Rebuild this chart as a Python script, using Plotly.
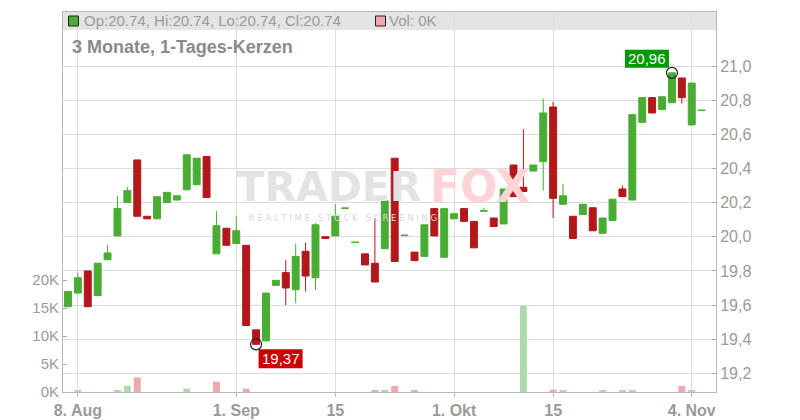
import plotly.graph_objects as go

# ---------------- data ----------------
DATES = [
    "2024-08-07", "2024-08-08", "2024-08-09", "2024-08-12", "2024-08-13", "2024-08-14", "2024-08-15",
    "2024-08-16", "2024-08-19", "2024-08-20", "2024-08-21", "2024-08-22", "2024-08-23", "2024-08-26",
    "2024-08-27", "2024-08-28", "2024-08-29", "2024-08-30", "2024-09-02", "2024-09-03", "2024-09-04",
    "2024-09-05", "2024-09-06", "2024-09-09", "2024-09-10", "2024-09-11", "2024-09-12", "2024-09-13",
    "2024-09-16", "2024-09-17", "2024-09-18", "2024-09-19", "2024-09-20", "2024-09-23", "2024-09-24",
    "2024-09-25", "2024-09-26", "2024-09-27", "2024-09-30", "2024-10-01", "2024-10-02", "2024-10-03",
    "2024-10-04", "2024-10-07", "2024-10-08", "2024-10-09", "2024-10-10", "2024-10-11", "2024-10-14",
    "2024-10-15", "2024-10-16", "2024-10-17", "2024-10-18", "2024-10-21", "2024-10-22", "2024-10-23",
    "2024-10-24", "2024-10-25", "2024-10-28", "2024-10-29", "2024-10-30", "2024-10-31", "2024-11-01",
    "2024-11-04", "2024-11-05",
]

OPEN = [19.59, 19.67, 19.80, 19.655, 19.865, 20.005, 20.20, 20.45, 20.12, 20.105,
        20.20, 20.215, 20.275, 20.305, 20.47, 19.90, 20.05, 19.96, 19.95, 19.455,
        19.39, 19.715, 19.79, 19.69, 19.915, 19.76, 20.00, 20.005, 20.166, 19.966,
        19.90, 19.845, 19.93, 20.46, 20.007, 19.91, 19.885, 20.165, 19.88, 20.105,
        20.165, 20.09, 20.150, 20.11, 20.075, 20.42, 20.29, 20.385, 20.44, 20.76,
        20.19, 20.12, 20.13, 20.17, 20.02, 20.095, 20.28, 20.215, 20.67, 20.815,
        20.745, 20.785, 20.93, 20.655, 20.739]

HIGH = [19.68, 19.79, 19.80, 19.845, 19.95, 20.24, 20.29, 20.45, 20.12, 20.235,
        20.26, 20.24, 20.48, 20.46, 20.47, 20.15, 20.05, 20.12, 19.95, 19.455,
        19.67, 19.745, 19.865, 19.96, 19.965, 20.08, 20.00, 20.19, 20.168, 19.968,
        19.90, 20.11, 20.21, 20.46, 20.009, 19.91, 20.07, 20.165, 20.165, 20.135,
        20.165, 20.09, 20.168, 20.11, 20.28, 20.42, 20.63, 20.42, 20.81, 20.79,
        20.31, 20.12, 20.19, 20.17, 20.11, 20.22, 20.30, 20.72, 20.815, 20.815,
        20.82, 20.96, 20.93, 20.90, 20.741]

LOW = [19.59, 19.67, 19.59, 19.655, 19.865, 20.005, 20.20, 20.12, 20.105, 20.105,
       20.20, 20.215, 20.275, 20.305, 20.23, 19.90, 19.95, 19.96, 19.48, 19.37,
       19.39, 19.715, 19.60, 19.61, 19.68, 19.69, 19.99, 20.005, 20.166, 19.966,
       19.835, 19.735, 19.93, 19.855, 20.007, 19.86, 19.885, 20.005, 19.88, 20.105,
       20.09, 19.935, 20.150, 20.06, 20.075, 20.235, 20.265, 20.385, 20.27, 20.11,
       20.19, 19.99, 20.13, 20.035, 20.02, 20.095, 20.235, 20.215, 20.67, 20.725,
       20.745, 20.785, 20.78, 20.655, 20.739]

CLOSE = [19.68, 19.76, 19.59, 19.845, 19.905, 20.165, 20.27, 20.12, 20.105, 20.235,
         20.26, 20.24, 20.48, 20.46, 20.23, 20.065, 19.95, 20.035, 19.48, 19.37,
         19.67, 19.745, 19.70, 19.885, 19.77, 20.07, 19.99, 20.12, 20.168, 19.968,
         19.835, 19.735, 20.21, 19.855, 20.009, 19.86, 20.07, 20.005, 20.165, 20.135,
         20.09, 19.935, 20.152, 20.06, 20.28, 20.235, 20.265, 20.42, 20.725, 20.225,
         20.24, 19.99, 20.19, 20.035, 20.11, 20.22, 20.235, 20.715, 20.815, 20.725,
         20.82, 20.96, 20.815, 20.90, 20.741]

VOLUME = [0, 250, 0, 0, 0, 250, 1100, 2600, 0, 0,
          0, 0, 600, 0, 0, 1850, 0, 0, 600, 0,
          0, 0, 0, 0, 0, 0, 0, 0, 0, 0,
          0, 250, 400, 1100, 0, 250, 0, 0, 0, 0,
          0, 0, 0, 0, 0, 0, 15400, 0, 0, 400,
          250, 0, 0, 0, 250, 0, 200, 200, 0, 0,
          0, 0, 1070, 350, 0]

TICK_DATES = ["2024-08-08", "2024-08-30", "2024-09-13", "2024-10-01", "2024-10-15", "2024-11-04"]
TICK_TEXT = ["8. Aug", "1. Sep", "15", "1. Okt", "15", "4. Nov"]

PRICE_TICKS = [19.2, 19.4, 19.6, 19.8, 20.0, 20.2, 20.4, 20.6, 20.8, 21.0]
VOL_TICKS = [0, 5000, 10000, 15000, 20000]
VOL_TICK_TEXT = ["0K", "5K", "10K", "15K", "20K"]

HIGH_LABEL = "20,96"
LOW_LABEL = "19,37"
HEADER_OHLC = "Op:20.74, Hi:20.74, Lo:20.74, Cl:20.74"
HEADER_VOL = "Vol: 0K"
TITLE = "3 Monate, 1-Tages-Kerzen"

# ---------------- styling / geometry ----------------
GREEN = "#49AD34"
RED = "#B2181B"
VOL_GREEN = "#ADDCA9"
VOL_PINK = "#EFA8AF"
GRID = "#DCDCDC"
AXIS = "#B8B8B8"
TXT = "#9A9A9A"
FONT = "Liberation Sans, Arial, sans-serif"

OFF = 8  # page body margin of the browser
# plot area in screen pixels
SL, SR, ST, SB = 63, 716, 12, 392
PL, PR, PT, PB = SL - OFF, SR - OFF, ST - OFF, SB - OFF
XR = [-0.5, 65.45]
YR = [19.0908, 21.3163]
VR = [0, 67857]

def px(x):  # screen x -> paper
    return (x - SL) / (SR - SL)

def py(y):  # screen y -> paper
    return (SB - y) / (SB - ST)

def dx(x):
    return XR[0] + px(x) * (XR[1] - XR[0])

def dy(y):
    return YR[0] + py(y) * (YR[1] - YR[0])

idx = list(range(len(DATES)))
tickvals = [DATES.index(d) for d in TICK_DATES]

vol_colors = []
for i in idx:
    ref = CLOSE[i - 1] if i > 0 else OPEN[i]
    vol_colors.append(VOL_GREEN if CLOSE[i] >= ref else VOL_PINK)

hi_i = HIGH.index(max(HIGH))
lo_i = LOW.index(min(LOW))

fig = go.Figure()

# watermark (beneath candles)
fig.add_trace(go.Scatter(
    x=[dx(329)], y=[dy(191)], mode="text", text=["TRADER"],
    textfont=dict(family="DejaVu Sans", size=41, color="#E3E3E3", weight="bold"),
    hoverinfo="skip"))
fig.add_trace(go.Scatter(
    x=[dx(480)], y=[dy(191)], mode="text", text=["FOX"],
    textfont=dict(family="DejaVu Sans", size=44, color="#FFD3D8", weight="bold"),
    hoverinfo="skip"))
fig.add_trace(go.Scatter(
    x=[dx(343)], y=[dy(219)], mode="text", text=["R E A L T I M E   S T O C K   S C R E E N I N G"],
    textfont=dict(family="DejaVu Sans", size=8.5, color="#D8D8D8"),
    hoverinfo="skip"))

fig.add_trace(go.Candlestick(
    x=idx, open=OPEN, high=HIGH, low=LOW, close=CLOSE,
    increasing=dict(line=dict(color=GREEN, width=1), fillcolor=GREEN),
    decreasing=dict(line=dict(color=RED, width=1), fillcolor=RED),
    whiskerwidth=0, hoverinfo="skip"))

fig.add_trace(go.Bar(
    x=idx, y=VOLUME, yaxis="y2", width=0.7,
    marker=dict(color=vol_colors, line=dict(width=0)), hoverinfo="skip"))

fig.add_trace(go.Scatter(
    x=[hi_i, lo_i], y=[HIGH[hi_i], LOW[lo_i]], mode="markers",
    marker=dict(symbol="circle-open", size=11, color="#222222", line=dict(width=1.2)),
    hoverinfo="skip"))

shapes = [
    dict(type="rect", xref="paper", yref="paper", x0=0, x1=1, y0=py(30), y1=1,
         fillcolor="#E4E4E4", line=dict(width=0), layer="below"),
    dict(type="rect", xref="paper", yref="paper", x0=px(68.5), x1=px(78.5), y0=py(26), y1=py(16),
         fillcolor=GREEN, line=dict(color="#222222", width=1), layer="above"),
    dict(type="rect", xref="paper", yref="paper", x0=px(375.5), x1=px(385.5), y0=py(26), y1=py(16),
         fillcolor=VOL_PINK, line=dict(color="#222222", width=1), layer="above"),
    # value label boxes anchored to the extreme points
    dict(type="rect", xref="x", yref="y", xsizemode="pixel", ysizemode="pixel",
         xanchor=hi_i, yanchor=HIGH[hi_i], x0=-47, x1=-3, y0=5, y1=23,
         fillcolor="#009900", line=dict(width=0), layer="above"),
    dict(type="rect", xref="x", yref="y", xsizemode="pixel", ysizemode="pixel",
         xanchor=lo_i, yanchor=LOW[lo_i], x0=2.5, x1=46.5, y0=-5, y1=-24,
         fillcolor="#CC0000", line=dict(width=0), layer="above"),
]

annotations = [
    dict(xref="paper", yref="paper", x=px(82), y=py(21), xanchor="left", yanchor="middle",
         text=HEADER_OHLC, showarrow=False, font=dict(family=FONT, size=15, color=TXT)),
    dict(xref="paper", yref="paper", x=px(387), y=py(21), xanchor="left", yanchor="middle",
         text=HEADER_VOL, showarrow=False, font=dict(family=FONT, size=15, color=TXT)),
    dict(xref="paper", yref="paper", x=px(70), y=py(47), xanchor="left", yanchor="middle",
         text="<b>" + TITLE + "</b>", showarrow=False, font=dict(family=FONT, size=18, color="#8A8A8A")),
    dict(xref="x", yref="y", x=hi_i, y=HIGH[hi_i], xanchor="center", yanchor="middle",
         xshift=-25, yshift=14, text=HIGH_LABEL, showarrow=False,
         font=dict(family=FONT, size=15, color="white")),
    dict(xref="x", yref="y", x=lo_i, y=LOW[lo_i], xanchor="center", yanchor="middle",
         xshift=24.5, yshift=-14.5, text=LOW_LABEL, showarrow=False,
         font=dict(family=FONT, size=15, color="white")),
]

fig.update_layout(
    width=800, height=420,
    margin=dict(l=PL, r=800 - PR, t=PT, b=420 - PB, autoexpand=False),
    paper_bgcolor="white", plot_bgcolor="rgba(0,0,0,0)",
    showlegend=False, separators=",.",
    boxgap=0.3, boxgroupgap=0,
    font=dict(family=FONT, color=TXT),
    shapes=shapes, annotations=annotations,
    xaxis=dict(
        range=XR, tickvals=tickvals, ticktext=TICK_TEXT,
        showgrid=True, gridcolor=GRID, gridwidth=1, zeroline=False,
        showline=True, linecolor=AXIS, linewidth=1, mirror=True,
        ticks="outside", ticklen=4, tickcolor=AXIS,
        tickfont=dict(family=FONT, size=16, color=TXT, weight="bold"),
        rangeslider=dict(visible=False), fixedrange=True),
    yaxis=dict(
        range=YR, tickvals=PRICE_TICKS, tickformat=".1f", side="right",
        showgrid=True, gridcolor=GRID, gridwidth=1, zeroline=False,
        showline=True, linecolor=AXIS, linewidth=1, mirror=True,
        ticks="inside", ticklen=4, tickcolor="#A8A8A8",
        tickfont=dict(family=FONT, size=16, color=TXT)),
    yaxis2=dict(
        range=VR, tickvals=VOL_TICKS, ticktext=VOL_TICK_TEXT, side="left", overlaying="y",
        showgrid=False, zeroline=False, showline=True, linecolor=AXIS, linewidth=1,
        ticks="inside", ticklen=4, tickcolor="#A8A8A8",
        tickfont=dict(family=FONT, size=15, color=TXT)),
)

fig.write_html("out.html")
